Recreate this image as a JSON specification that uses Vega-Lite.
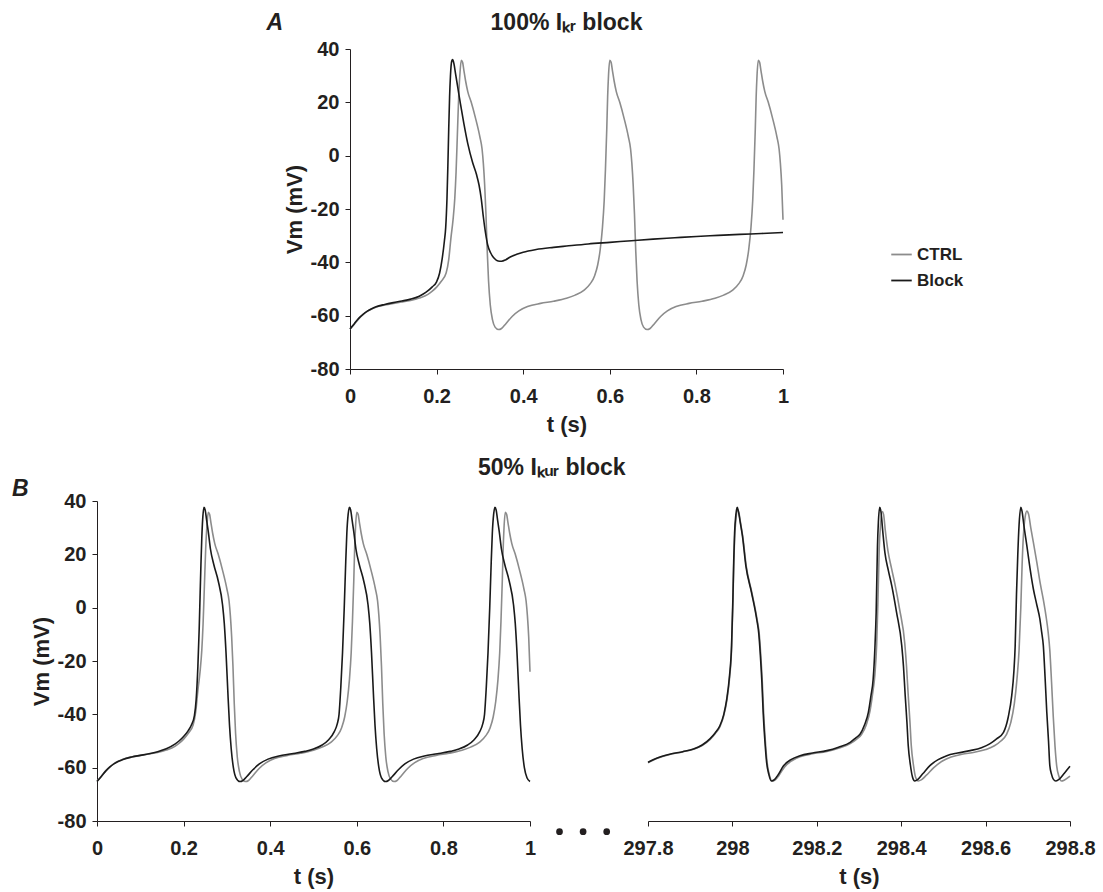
{
"$schema": "https://vega.github.io/schema/vega-lite/v6.json",
"background": "white",
"padding": {"left": 12, "top": 12, "right": 5, "bottom": 5},
"config": {
  "view": {"stroke": null},
  "font": "Liberation Sans",
  "axis": {"grid": false, "domainColor": "#231f20", "tickColor": "#231f20", "domainWidth": 1, "tickWidth": 1, "tickSize": 5, "labelFlush": false, "labelFont": "Liberation Sans", "labelFontSize": 20, "labelFontWeight": "bold", "labelColor": "#231f20", "titleFont": "Liberation Sans", "titleFontSize": 22, "titleFontWeight": "bold", "titleColor": "#231f20"},
  "axisX": {"labelPadding": 12, "titlePadding": 8},
  "axisY": {"labelPadding": 6, "titlePadding": 4},
  "title": {"font": "Liberation Sans", "fontSize": 23, "fontWeight": "bold", "color": "#231f20"},
  "legend": {"labelFont": "Liberation Sans", "labelFontSize": 17, "labelFontWeight": "bold", "labelColor": "#231f20", "symbolType": "stroke", "symbolStrokeWidth": 1.8, "symbolSize": 420, "rowPadding": 6, "labelOffset": 4, "padding": 0}
},
"datasets": {
"ctrl": [
{"t":0,"V":-65,"s":"CTRL"},{"t":0.01,"V":-63.2,"s":"CTRL"},{"t":0.02,"V":-61.2,"s":"CTRL"},{"t":0.03,"V":-59.6,"s":"CTRL"},{"t":0.04,"V":-58.4,"s":"CTRL"},{"t":0.05,"V":-57.5,"s":"CTRL"},{"t":0.06,"V":-56.8,"s":"CTRL"},{"t":0.08,"V":-56,"s":"CTRL"},{"t":0.1,"V":-55.4,"s":"CTRL"},{"t":0.12,"V":-54.9,"s":"CTRL"},{"t":0.14,"V":-54.3,"s":"CTRL"},{"t":0.16,"V":-53.4,"s":"CTRL"},{"t":0.18,"V":-52,"s":"CTRL"},{"t":0.19,"V":-50.8,"s":"CTRL"},{"t":0.2,"V":-49.3,"s":"CTRL"},{"t":0.21,"V":-47.3,"s":"CTRL"},{"t":0.222,"V":-44,"s":"CTRL"},{"t":0.228,"V":-39,"s":"CTRL"},{"t":0.233,"V":-31,"s":"CTRL"},{"t":0.238,"V":-24,"s":"CTRL"},{"t":0.242,"V":-16,"s":"CTRL"},{"t":0.245,"V":-6,"s":"CTRL"},{"t":0.248,"V":8,"s":"CTRL"},{"t":0.251,"V":22,"s":"CTRL"},{"t":0.254,"V":31,"s":"CTRL"},{"t":0.257,"V":35.8,"s":"CTRL"},{"t":0.26,"V":35,"s":"CTRL"},{"t":0.263,"V":32,"s":"CTRL"},{"t":0.267,"V":28,"s":"CTRL"},{"t":0.272,"V":24,"s":"CTRL"},{"t":0.28,"V":20,"s":"CTRL"},{"t":0.29,"V":14,"s":"CTRL"},{"t":0.3,"V":7,"s":"CTRL"},{"t":0.305,"V":2.5,"s":"CTRL"},{"t":0.308,"V":-3,"s":"CTRL"},{"t":0.311,"V":-11,"s":"CTRL"},{"t":0.314,"V":-22,"s":"CTRL"},{"t":0.317,"V":-36,"s":"CTRL"},{"t":0.32,"V":-47,"s":"CTRL"},{"t":0.324,"V":-56,"s":"CTRL"},{"t":0.329,"V":-61.5,"s":"CTRL"},{"t":0.335,"V":-64.3,"s":"CTRL"},{"t":0.343,"V":-65.2,"s":"CTRL"},{"t":0.35,"V":-64.8,"s":"CTRL"},{"t":0.36,"V":-63,"s":"CTRL"},{"t":0.375,"V":-60.2,"s":"CTRL"},{"t":0.39,"V":-58.2,"s":"CTRL"},{"t":0.41,"V":-56.6,"s":"CTRL"},{"t":0.44,"V":-55.4,"s":"CTRL"},{"t":0.47,"V":-54.6,"s":"CTRL"},{"t":0.5,"V":-53.5,"s":"CTRL"},{"t":0.52,"V":-52.3,"s":"CTRL"},{"t":0.54,"V":-50.5,"s":"CTRL"},{"t":0.555,"V":-48,"s":"CTRL"},{"t":0.565,"V":-45,"s":"CTRL"},{"t":0.572,"V":-41,"s":"CTRL"},{"t":0.578,"V":-35,"s":"CTRL"},{"t":0.583,"V":-27,"s":"CTRL"},{"t":0.587,"V":-17,"s":"CTRL"},{"t":0.59,"V":-5,"s":"CTRL"},{"t":0.593,"V":10,"s":"CTRL"},{"t":0.595,"V":22,"s":"CTRL"},{"t":0.597,"V":30,"s":"CTRL"},{"t":0.6,"V":35.8,"s":"CTRL"},{"t":0.603,"V":35,"s":"CTRL"},{"t":0.606,"V":32,"s":"CTRL"},{"t":0.61,"V":28,"s":"CTRL"},{"t":0.615,"V":24,"s":"CTRL"},{"t":0.623,"V":20,"s":"CTRL"},{"t":0.633,"V":14,"s":"CTRL"},{"t":0.643,"V":7,"s":"CTRL"},{"t":0.648,"V":2.5,"s":"CTRL"},{"t":0.651,"V":-3,"s":"CTRL"},{"t":0.654,"V":-11,"s":"CTRL"},{"t":0.657,"V":-22,"s":"CTRL"},{"t":0.66,"V":-36,"s":"CTRL"},{"t":0.663,"V":-47,"s":"CTRL"},{"t":0.667,"V":-56,"s":"CTRL"},{"t":0.672,"V":-61.5,"s":"CTRL"},{"t":0.678,"V":-64.3,"s":"CTRL"},{"t":0.686,"V":-65.2,"s":"CTRL"},{"t":0.693,"V":-64.8,"s":"CTRL"},{"t":0.703,"V":-63,"s":"CTRL"},{"t":0.718,"V":-60.2,"s":"CTRL"},{"t":0.733,"V":-58.2,"s":"CTRL"},{"t":0.753,"V":-56.6,"s":"CTRL"},{"t":0.783,"V":-55.4,"s":"CTRL"},{"t":0.813,"V":-54.6,"s":"CTRL"},{"t":0.843,"V":-53.5,"s":"CTRL"},{"t":0.863,"V":-52.3,"s":"CTRL"},{"t":0.883,"V":-50.5,"s":"CTRL"},{"t":0.898,"V":-48,"s":"CTRL"},{"t":0.908,"V":-45,"s":"CTRL"},{"t":0.915,"V":-41,"s":"CTRL"},{"t":0.921,"V":-35,"s":"CTRL"},{"t":0.926,"V":-27,"s":"CTRL"},{"t":0.93,"V":-17,"s":"CTRL"},{"t":0.933,"V":-5,"s":"CTRL"},{"t":0.936,"V":10,"s":"CTRL"},{"t":0.938,"V":22,"s":"CTRL"},{"t":0.94,"V":30,"s":"CTRL"},{"t":0.943,"V":35.8,"s":"CTRL"},{"t":0.946,"V":35,"s":"CTRL"},{"t":0.949,"V":32,"s":"CTRL"},{"t":0.953,"V":28,"s":"CTRL"},{"t":0.958,"V":24,"s":"CTRL"},{"t":0.966,"V":20,"s":"CTRL"},{"t":0.976,"V":14,"s":"CTRL"},{"t":0.986,"V":7,"s":"CTRL"},{"t":0.991,"V":2.5,"s":"CTRL"},{"t":0.994,"V":-3,"s":"CTRL"},{"t":0.997,"V":-11,"s":"CTRL"},{"t":1,"V":-24,"s":"CTRL"}
],
"blockA": [
{"t":0,"V":-65,"s":"Block"},{"t":0.01,"V":-63,"s":"Block"},{"t":0.02,"V":-61,"s":"Block"},{"t":0.03,"V":-59.5,"s":"Block"},{"t":0.04,"V":-58.3,"s":"Block"},{"t":0.05,"V":-57.4,"s":"Block"},{"t":0.06,"V":-56.7,"s":"Block"},{"t":0.08,"V":-55.8,"s":"Block"},{"t":0.1,"V":-55.1,"s":"Block"},{"t":0.12,"V":-54.5,"s":"Block"},{"t":0.14,"V":-53.8,"s":"Block"},{"t":0.16,"V":-52.7,"s":"Block"},{"t":0.175,"V":-51.3,"s":"Block"},{"t":0.19,"V":-49.2,"s":"Block"},{"t":0.2,"V":-47.3,"s":"Block"},{"t":0.207,"V":-44,"s":"Block"},{"t":0.213,"V":-38.5,"s":"Block"},{"t":0.218,"V":-32,"s":"Block"},{"t":0.221,"V":-27,"s":"Block"},{"t":0.224,"V":-16,"s":"Block"},{"t":0.226,"V":-4,"s":"Block"},{"t":0.228,"V":10,"s":"Block"},{"t":0.23,"V":22,"s":"Block"},{"t":0.232,"V":30,"s":"Block"},{"t":0.235,"V":35.5,"s":"Block"},{"t":0.237,"V":36,"s":"Block"},{"t":0.24,"V":34.5,"s":"Block"},{"t":0.244,"V":30.5,"s":"Block"},{"t":0.249,"V":25.5,"s":"Block"},{"t":0.255,"V":19.5,"s":"Block"},{"t":0.263,"V":12,"s":"Block"},{"t":0.272,"V":4.5,"s":"Block"},{"t":0.283,"V":-2.5,"s":"Block"},{"t":0.292,"V":-7,"s":"Block"},{"t":0.298,"V":-11,"s":"Block"},{"t":0.303,"V":-16,"s":"Block"},{"t":0.308,"V":-23,"s":"Block"},{"t":0.313,"V":-29,"s":"Block"},{"t":0.318,"V":-33.5,"s":"Block"},{"t":0.325,"V":-36.5,"s":"Block"},{"t":0.333,"V":-38.5,"s":"Block"},{"t":0.342,"V":-39.5,"s":"Block"},{"t":0.35,"V":-39.6,"s":"Block"},{"t":0.36,"V":-39,"s":"Block"},{"t":0.37,"V":-38,"s":"Block"},{"t":0.385,"V":-37,"s":"Block"},{"t":0.4,"V":-36.2,"s":"Block"},{"t":0.43,"V":-35.2,"s":"Block"},{"t":0.47,"V":-34.4,"s":"Block"},{"t":0.5,"V":-33.9,"s":"Block"},{"t":0.55,"V":-33.1,"s":"Block"},{"t":0.6,"V":-32.5,"s":"Block"},{"t":0.65,"V":-31.9,"s":"Block"},{"t":0.7,"V":-31.3,"s":"Block"},{"t":0.75,"V":-30.8,"s":"Block"},{"t":0.8,"V":-30.3,"s":"Block"},{"t":0.85,"V":-29.9,"s":"Block"},{"t":0.9,"V":-29.5,"s":"Block"},{"t":0.95,"V":-29.2,"s":"Block"},{"t":1,"V":-28.8,"s":"Block"}
],
"blockBL": [
{"t":0,"V":-65.2,"s":"Block"},{"t":0.01,"V":-63.3,"s":"Block"},{"t":0.02,"V":-61.3,"s":"Block"},{"t":0.03,"V":-59.7,"s":"Block"},{"t":0.04,"V":-58.5,"s":"Block"},{"t":0.05,"V":-57.6,"s":"Block"},{"t":0.06,"V":-56.9,"s":"Block"},{"t":0.08,"V":-56,"s":"Block"},{"t":0.1,"V":-55.4,"s":"Block"},{"t":0.12,"V":-54.8,"s":"Block"},{"t":0.14,"V":-54,"s":"Block"},{"t":0.16,"V":-52.9,"s":"Block"},{"t":0.18,"V":-51.2,"s":"Block"},{"t":0.19,"V":-49.9,"s":"Block"},{"t":0.2,"V":-48.3,"s":"Block"},{"t":0.21,"V":-46.3,"s":"Block"},{"t":0.218,"V":-44,"s":"Block"},{"t":0.225,"V":-40.5,"s":"Block"},{"t":0.229,"V":-34.5,"s":"Block"},{"t":0.233,"V":-22,"s":"Block"},{"t":0.236,"V":-8,"s":"Block"},{"t":0.238,"V":4,"s":"Block"},{"t":0.24,"V":16,"s":"Block"},{"t":0.242,"V":26,"s":"Block"},{"t":0.244,"V":33,"s":"Block"},{"t":0.247,"V":37.6,"s":"Block"},{"t":0.25,"V":36.5,"s":"Block"},{"t":0.253,"V":33,"s":"Block"},{"t":0.257,"V":28.5,"s":"Block"},{"t":0.262,"V":22,"s":"Block"},{"t":0.27,"V":16,"s":"Block"},{"t":0.28,"V":10,"s":"Block"},{"t":0.29,"V":1,"s":"Block"},{"t":0.294,"V":-6,"s":"Block"},{"t":0.298,"V":-17,"s":"Block"},{"t":0.302,"V":-31,"s":"Block"},{"t":0.306,"V":-44,"s":"Block"},{"t":0.31,"V":-53,"s":"Block"},{"t":0.315,"V":-60,"s":"Block"},{"t":0.321,"V":-63.8,"s":"Block"},{"t":0.33,"V":-65.2,"s":"Block"},{"t":0.337,"V":-64.8,"s":"Block"},{"t":0.345,"V":-63.5,"s":"Block"},{"t":0.36,"V":-60.8,"s":"Block"},{"t":0.375,"V":-58.6,"s":"Block"},{"t":0.395,"V":-56.8,"s":"Block"},{"t":0.42,"V":-55.6,"s":"Block"},{"t":0.45,"V":-54.8,"s":"Block"},{"t":0.48,"V":-53.9,"s":"Block"},{"t":0.5,"V":-53,"s":"Block"},{"t":0.52,"V":-51.5,"s":"Block"},{"t":0.535,"V":-49.5,"s":"Block"},{"t":0.548,"V":-46.5,"s":"Block"},{"t":0.555,"V":-43.5,"s":"Block"},{"t":0.559,"V":-40,"s":"Block"},{"t":0.563,"V":-30,"s":"Block"},{"t":0.567,"V":-17,"s":"Block"},{"t":0.571,"V":0,"s":"Block"},{"t":0.574,"V":15,"s":"Block"},{"t":0.577,"V":28,"s":"Block"},{"t":0.58,"V":35,"s":"Block"},{"t":0.583,"V":37.6,"s":"Block"},{"t":0.586,"V":36.5,"s":"Block"},{"t":0.589,"V":33,"s":"Block"},{"t":0.593,"V":28.5,"s":"Block"},{"t":0.598,"V":22,"s":"Block"},{"t":0.606,"V":16,"s":"Block"},{"t":0.616,"V":10,"s":"Block"},{"t":0.626,"V":1,"s":"Block"},{"t":0.63,"V":-6,"s":"Block"},{"t":0.634,"V":-17,"s":"Block"},{"t":0.638,"V":-31,"s":"Block"},{"t":0.642,"V":-44,"s":"Block"},{"t":0.646,"V":-53,"s":"Block"},{"t":0.651,"V":-60,"s":"Block"},{"t":0.657,"V":-63.8,"s":"Block"},{"t":0.666,"V":-65.2,"s":"Block"},{"t":0.673,"V":-64.8,"s":"Block"},{"t":0.681,"V":-63.5,"s":"Block"},{"t":0.696,"V":-60.8,"s":"Block"},{"t":0.711,"V":-58.6,"s":"Block"},{"t":0.731,"V":-56.8,"s":"Block"},{"t":0.756,"V":-55.6,"s":"Block"},{"t":0.786,"V":-54.8,"s":"Block"},{"t":0.816,"V":-53.9,"s":"Block"},{"t":0.836,"V":-53,"s":"Block"},{"t":0.856,"V":-51.5,"s":"Block"},{"t":0.871,"V":-49.5,"s":"Block"},{"t":0.884,"V":-46.5,"s":"Block"},{"t":0.891,"V":-43.5,"s":"Block"},{"t":0.895,"V":-40,"s":"Block"},{"t":0.899,"V":-30,"s":"Block"},{"t":0.903,"V":-17,"s":"Block"},{"t":0.907,"V":0,"s":"Block"},{"t":0.91,"V":15,"s":"Block"},{"t":0.913,"V":28,"s":"Block"},{"t":0.916,"V":35,"s":"Block"},{"t":0.919,"V":37.6,"s":"Block"},{"t":0.922,"V":36.5,"s":"Block"},{"t":0.925,"V":33,"s":"Block"},{"t":0.929,"V":28.5,"s":"Block"},{"t":0.934,"V":22,"s":"Block"},{"t":0.942,"V":16,"s":"Block"},{"t":0.952,"V":10,"s":"Block"},{"t":0.962,"V":1,"s":"Block"},{"t":0.966,"V":-6,"s":"Block"},{"t":0.97,"V":-17,"s":"Block"},{"t":0.974,"V":-31,"s":"Block"},{"t":0.978,"V":-44,"s":"Block"},{"t":0.982,"V":-53,"s":"Block"},{"t":0.987,"V":-60,"s":"Block"},{"t":0.993,"V":-63.8,"s":"Block"},{"t":1,"V":-65.2,"s":"Block"}
],
"ctrlBR": [
{"t":297.8,"V":-58.2,"s":"CTRL"},{"t":297.8205,"V":-56.6,"s":"CTRL"},{"t":297.8513,"V":-55.1,"s":"CTRL"},{"t":297.8821,"V":-54.1,"s":"CTRL"},{"t":297.9077,"V":-53.1,"s":"CTRL"},{"t":297.9283,"V":-51.7,"s":"CTRL"},{"t":297.9467,"V":-49.5,"s":"CTRL"},{"t":297.959,"V":-47.3,"s":"CTRL"},{"t":297.9703,"V":-44.7,"s":"CTRL"},{"t":297.9796,"V":-40.5,"s":"CTRL"},{"t":297.9867,"V":-35,"s":"CTRL"},{"t":297.9929,"V":-27,"s":"CTRL"},{"t":297.998,"V":-15.5,"s":"CTRL"},{"t":298.0011,"V":1,"s":"CTRL"},{"t":298.0032,"V":16,"s":"CTRL"},{"t":298.0052,"V":26,"s":"CTRL"},{"t":298.0083,"V":33,"s":"CTRL"},{"t":298.0124,"V":36.5,"s":"CTRL"},{"t":298.0155,"V":35.5,"s":"CTRL"},{"t":298.0196,"V":31.5,"s":"CTRL"},{"t":298.0247,"V":26.5,"s":"CTRL"},{"t":298.0329,"V":15.5,"s":"CTRL"},{"t":298.0463,"V":5.5,"s":"CTRL"},{"t":298.0586,"V":-4.5,"s":"CTRL"},{"t":298.0637,"V":-10,"s":"CTRL"},{"t":298.0668,"V":-16.7,"s":"CTRL"},{"t":298.0709,"V":-28,"s":"CTRL"},{"t":298.074,"V":-39.2,"s":"CTRL"},{"t":298.0781,"V":-50,"s":"CTRL"},{"t":298.0822,"V":-58,"s":"CTRL"},{"t":298.0873,"V":-62.5,"s":"CTRL"},{"t":298.0945,"V":-65,"s":"CTRL"},{"t":298.1017,"V":-64.6,"s":"CTRL"},{"t":298.1099,"V":-63,"s":"CTRL"},{"t":298.1232,"V":-59.8,"s":"CTRL"},{"t":298.1407,"V":-57.4,"s":"CTRL"},{"t":298.1622,"V":-55.8,"s":"CTRL"},{"t":298.1899,"V":-54.8,"s":"CTRL"},{"t":298.2238,"V":-53.9,"s":"CTRL"},{"t":298.2515,"V":-52.7,"s":"CTRL"},{"t":298.2792,"V":-51,"s":"CTRL"},{"t":298.2946,"V":-49.3,"s":"CTRL"},{"t":298.3059,"V":-47.6,"s":"CTRL"},{"t":298.3171,"V":-44,"s":"CTRL"},{"t":298.3264,"V":-38.5,"s":"CTRL"},{"t":298.3325,"V":-32,"s":"CTRL"},{"t":298.3377,"V":-25,"s":"CTRL"},{"t":298.3418,"V":-14,"s":"CTRL"},{"t":298.3448,"V":2,"s":"CTRL"},{"t":298.3479,"V":22,"s":"CTRL"},{"t":298.351,"V":31,"s":"CTRL"},{"t":298.3551,"V":36,"s":"CTRL"},{"t":298.3582,"V":35,"s":"CTRL"},{"t":298.3623,"V":29,"s":"CTRL"},{"t":298.3684,"V":21.5,"s":"CTRL"},{"t":298.3767,"V":15,"s":"CTRL"},{"t":298.3849,"V":9,"s":"CTRL"},{"t":298.3961,"V":-0.5,"s":"CTRL"},{"t":298.4085,"V":-13.5,"s":"CTRL"},{"t":298.4126,"V":-22,"s":"CTRL"},{"t":298.4167,"V":-33,"s":"CTRL"},{"t":298.4208,"V":-43,"s":"CTRL"},{"t":298.4239,"V":-51.75,"s":"CTRL"},{"t":298.429,"V":-59,"s":"CTRL"},{"t":298.4341,"V":-63.6,"s":"CTRL"},{"t":298.4403,"V":-65,"s":"CTRL"},{"t":298.4485,"V":-64.5,"s":"CTRL"},{"t":298.4598,"V":-62.8,"s":"CTRL"},{"t":298.4772,"V":-60,"s":"CTRL"},{"t":298.4977,"V":-57.5,"s":"CTRL"},{"t":298.5183,"V":-56,"s":"CTRL"},{"t":298.5439,"V":-55,"s":"CTRL"},{"t":298.5737,"V":-54.2,"s":"CTRL"},{"t":298.6003,"V":-53.2,"s":"CTRL"},{"t":298.6209,"V":-51.8,"s":"CTRL"},{"t":298.6362,"V":-50,"s":"CTRL"},{"t":298.6496,"V":-47.5,"s":"CTRL"},{"t":298.6598,"V":-43,"s":"CTRL"},{"t":298.6681,"V":-36,"s":"CTRL"},{"t":298.6742,"V":-27,"s":"CTRL"},{"t":298.6793,"V":-16,"s":"CTRL"},{"t":298.6834,"V":0,"s":"CTRL"},{"t":298.6865,"V":16,"s":"CTRL"},{"t":298.6896,"V":27,"s":"CTRL"},{"t":298.6937,"V":34,"s":"CTRL"},{"t":298.6978,"V":36.2,"s":"CTRL"},{"t":298.7019,"V":35,"s":"CTRL"},{"t":298.707,"V":30,"s":"CTRL"},{"t":298.7132,"V":24.5,"s":"CTRL"},{"t":298.7214,"V":17,"s":"CTRL"},{"t":298.7296,"V":9,"s":"CTRL"},{"t":298.7368,"V":3,"s":"CTRL"},{"t":298.743,"V":-3,"s":"CTRL"},{"t":298.7481,"V":-9,"s":"CTRL"},{"t":298.7522,"V":-16,"s":"CTRL"},{"t":298.7563,"V":-28,"s":"CTRL"},{"t":298.7604,"V":-41,"s":"CTRL"},{"t":298.7645,"V":-52,"s":"CTRL"},{"t":298.7686,"V":-59.5,"s":"CTRL"},{"t":298.7737,"V":-63.2,"s":"CTRL"},{"t":298.7799,"V":-65,"s":"CTRL"},{"t":298.7871,"V":-64.6,"s":"CTRL"},{"t":298.8,"V":-63.2,"s":"CTRL"}
],
"blockBR": [
{"t":297.8,"V":-58,"s":"Block"},{"t":297.8205,"V":-56.5,"s":"Block"},{"t":297.8513,"V":-55,"s":"Block"},{"t":297.8821,"V":-54,"s":"Block"},{"t":297.9077,"V":-53,"s":"Block"},{"t":297.9283,"V":-51.5,"s":"Block"},{"t":297.9467,"V":-49.2,"s":"Block"},{"t":297.959,"V":-47,"s":"Block"},{"t":297.9703,"V":-44.3,"s":"Block"},{"t":297.9796,"V":-40,"s":"Block"},{"t":297.9867,"V":-34.2,"s":"Block"},{"t":297.9929,"V":-26,"s":"Block"},{"t":297.998,"V":-14.3,"s":"Block"},{"t":298.0011,"V":3,"s":"Block"},{"t":298.0032,"V":18,"s":"Block"},{"t":298.0052,"V":28,"s":"Block"},{"t":298.0083,"V":35,"s":"Block"},{"t":298.0114,"V":37.6,"s":"Block"},{"t":298.0144,"V":36,"s":"Block"},{"t":298.0186,"V":32,"s":"Block"},{"t":298.0237,"V":27,"s":"Block"},{"t":298.0319,"V":15.7,"s":"Block"},{"t":298.0452,"V":5.75,"s":"Block"},{"t":298.0575,"V":-4.25,"s":"Block"},{"t":298.0627,"V":-10,"s":"Block"},{"t":298.0658,"V":-16.7,"s":"Block"},{"t":298.0699,"V":-28,"s":"Block"},{"t":298.0729,"V":-39.2,"s":"Block"},{"t":298.077,"V":-50,"s":"Block"},{"t":298.0811,"V":-58,"s":"Block"},{"t":298.0863,"V":-62.5,"s":"Block"},{"t":298.0924,"V":-65,"s":"Block"},{"t":298.0996,"V":-64.5,"s":"Block"},{"t":298.1078,"V":-62.8,"s":"Block"},{"t":298.1212,"V":-59.3,"s":"Block"},{"t":298.1386,"V":-57,"s":"Block"},{"t":298.1602,"V":-55.5,"s":"Block"},{"t":298.1899,"V":-54.5,"s":"Block"},{"t":298.2238,"V":-53.6,"s":"Block"},{"t":298.2515,"V":-52.3,"s":"Block"},{"t":298.2792,"V":-50.5,"s":"Block"},{"t":298.2925,"V":-48.8,"s":"Block"},{"t":298.3028,"V":-47.4,"s":"Block"},{"t":298.313,"V":-44,"s":"Block"},{"t":298.3223,"V":-39.2,"s":"Block"},{"t":298.3284,"V":-33,"s":"Block"},{"t":298.3336,"V":-26.75,"s":"Block"},{"t":298.3377,"V":-15,"s":"Block"},{"t":298.3407,"V":-1.75,"s":"Block"},{"t":298.3438,"V":23.2,"s":"Block"},{"t":298.3459,"V":32,"s":"Block"},{"t":298.349,"V":37.6,"s":"Block"},{"t":298.352,"V":36,"s":"Block"},{"t":298.3561,"V":29,"s":"Block"},{"t":298.3613,"V":20.75,"s":"Block"},{"t":298.3695,"V":14,"s":"Block"},{"t":298.3777,"V":8.2,"s":"Block"},{"t":298.389,"V":-1.75,"s":"Block"},{"t":298.4013,"V":-14.25,"s":"Block"},{"t":298.4054,"V":-22,"s":"Block"},{"t":298.4095,"V":-33,"s":"Block"},{"t":298.4136,"V":-43,"s":"Block"},{"t":298.4167,"V":-51.75,"s":"Block"},{"t":298.4218,"V":-59,"s":"Block"},{"t":298.4269,"V":-63.6,"s":"Block"},{"t":298.4321,"V":-65,"s":"Block"},{"t":298.4403,"V":-64.3,"s":"Block"},{"t":298.4516,"V":-62.2,"s":"Block"},{"t":298.468,"V":-59.25,"s":"Block"},{"t":298.4875,"V":-57,"s":"Block"},{"t":298.508,"V":-55.5,"s":"Block"},{"t":298.5336,"V":-54.5,"s":"Block"},{"t":298.5634,"V":-53.6,"s":"Block"},{"t":298.5901,"V":-52.5,"s":"Block"},{"t":298.6106,"V":-51,"s":"Block"},{"t":298.626,"V":-49.2,"s":"Block"},{"t":298.6424,"V":-46.75,"s":"Block"},{"t":298.6537,"V":-41,"s":"Block"},{"t":298.6619,"V":-33,"s":"Block"},{"t":298.667,"V":-24,"s":"Block"},{"t":298.6701,"V":-14.25,"s":"Block"},{"t":298.6732,"V":5,"s":"Block"},{"t":298.6763,"V":20,"s":"Block"},{"t":298.6793,"V":31,"s":"Block"},{"t":298.6834,"V":37.6,"s":"Block"},{"t":298.6865,"V":36,"s":"Block"},{"t":298.6906,"V":31,"s":"Block"},{"t":298.6978,"V":23.2,"s":"Block"},{"t":298.705,"V":15,"s":"Block"},{"t":298.7132,"V":7,"s":"Block"},{"t":298.7214,"V":1,"s":"Block"},{"t":298.7286,"V":-4.25,"s":"Block"},{"t":298.7327,"V":-9,"s":"Block"},{"t":298.7368,"V":-14.25,"s":"Block"},{"t":298.7409,"V":-26,"s":"Block"},{"t":298.745,"V":-39.2,"s":"Block"},{"t":298.7491,"V":-50,"s":"Block"},{"t":298.7522,"V":-59.25,"s":"Block"},{"t":298.7563,"V":-62.5,"s":"Block"},{"t":298.7604,"V":-64.3,"s":"Block"},{"t":298.7666,"V":-65,"s":"Block"},{"t":298.7748,"V":-64.3,"s":"Block"},{"t":298.7871,"V":-62,"s":"Block"},{"t":298.8,"V":-59.5,"s":"Block"}
]
},
"bounds": "flush",
"spacing": 452,
"resolve": {"scale": {"color": "independent"}, "legend": {"color": "independent"}},
"vconcat": [
{
  "bounds": "flush",
  "spacing": 67,
  "resolve": {"scale": {"color": "independent"}, "legend": {"color": "independent"}},
  "hconcat": [
    {
      "width": 186, "height": 320,
      "title": {"text": "A", "anchor": "end", "frame": "group", "fontStyle": "italic", "offset": 14},
      "data": {"values": []},
      "mark": {"type": "point", "opacity": 0}
    },
    {
      "width": 433, "height": 320,
      "title": {"text": "100% Iₖᵣ block", "offset": 4},
      "encoding": {
        "x": {"field": "t", "type": "quantitative", "scale": {"domain": [0, 1], "nice": false}, "axis": {"values": [0, 0.2, 0.4, 0.6, 0.8, 1], "labelExpr": "'' + datum.value", "title": "t (s)"}},
        "y": {"field": "V", "type": "quantitative", "scale": {"domain": [-80, 40], "nice": false}, "axis": {"values": [-80, -60, -40, -20, 0, 20, 40], "labelExpr": "'' + datum.value", "title": "Vm (mV)"}},
        "color": {"field": "s", "type": "nominal", "scale": {"domain": ["CTRL", "Block"], "range": ["#8c8c8c", "#1a1a1a"]}, "legend": {"orient": "none", "legendX": 540, "legendY": 194, "title": null}}
      },
      "layer": [
        {"data": {"name": "ctrl"}, "mark": {"type": "line", "strokeWidth": 1.6, "interpolate": "monotone"}},
        {"data": {"name": "blockA"}, "mark": {"type": "line", "strokeWidth": 1.6, "interpolate": "monotone"}}
      ]
    }
  ]
},
{
  "bounds": "flush",
  "spacing": 0,
  "hconcat": [
    {
      "width": 433, "height": 320,
      "title": {"text": "B", "anchor": "start", "frame": "group", "dx": -85, "dy": 10, "fontStyle": "italic", "offset": 0},
      "encoding": {
        "x": {"field": "t", "type": "quantitative", "scale": {"domain": [0, 1], "nice": false}, "axis": {"values": [0, 0.2, 0.4, 0.6, 0.8, 1], "labelExpr": "'' + datum.value", "title": "t (s)"}},
        "y": {"field": "V", "type": "quantitative", "scale": {"domain": [-80, 40], "nice": false}, "axis": {"values": [-80, -60, -40, -20, 0, 20, 40], "labelExpr": "'' + datum.value", "title": "Vm (mV)"}}
      },
      "layer": [
        {"data": {"name": "ctrl"}, "mark": {"type": "line", "strokeWidth": 1.6, "interpolate": "monotone", "color": "#8c8c8c"}},
        {"data": {"name": "blockBL"}, "mark": {"type": "line", "strokeWidth": 1.6, "interpolate": "monotone", "color": "#1a1a1a"}}
      ]
    },
    {
      "width": 118, "height": 320,
      "title": {"text": "50% Iₖᵤᵣ block", "anchor": "start", "frame": "group", "dx": -52, "offset": 21},
      "data": {"values": [{"dot": 1}, {"dot": 2}, {"dot": 3}]},
      "mark": {"type": "point", "filled": true, "size": 45, "color": "#231f20", "opacity": 1},
      "encoding": {
        "x": {"field": "dot", "type": "quantitative", "scale": {"domain": [-0.25, 4.75], "nice": false, "zero": false}, "axis": null},
        "y": {"datum": -84, "type": "quantitative", "scale": {"domain": [-80, 40], "nice": false}, "axis": null}
      }
    },
    {
      "width": 422, "height": 320,
      "encoding": {
        "x": {"field": "t", "type": "quantitative", "scale": {"domain": [297.8, 298.8], "nice": false, "zero": false}, "axis": {"values": [297.8, 298, 298.2, 298.4, 298.6, 298.8], "labelExpr": "'' + datum.value", "title": "t (s)"}},
        "y": {"field": "V", "type": "quantitative", "scale": {"domain": [-80, 40], "nice": false}, "axis": null}
      },
      "layer": [
        {"data": {"name": "ctrlBR"}, "mark": {"type": "line", "strokeWidth": 1.6, "interpolate": "monotone", "color": "#8c8c8c"}},
        {"data": {"name": "blockBR"}, "mark": {"type": "line", "strokeWidth": 1.6, "interpolate": "monotone", "color": "#1a1a1a"}}
      ]
    }
  ]
}
]
}
